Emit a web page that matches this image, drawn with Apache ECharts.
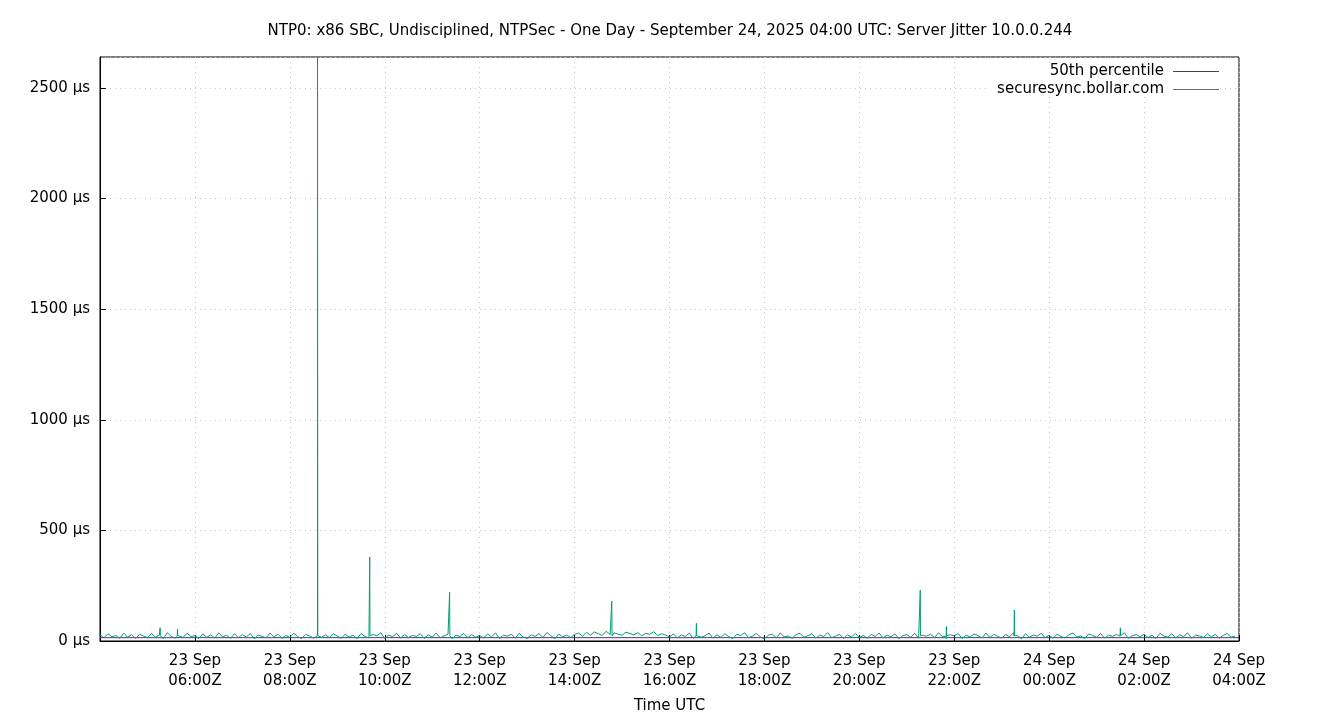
<!DOCTYPE html>
<html>
<head>
<meta charset="utf-8">
<script src="https://cdn.jsdelivr.net/npm/echarts@6/dist/echarts.min.js"></script>
<style>html,body{margin:0;background:#fff}#chart{width:1340px;height:720px}</style>
</head>
<body>
<div id="chart"></div>
<script>
var startTime = Date.UTC(2025, 8, 23, 4, 0),
    endTime = Date.UTC(2025, 8, 24, 4, 0),
    stepMin = 5;

// jitter samples every 5 minutes, µs, one row per hour
var baseJitter = [
    28, 14, 33, 19, 25, 12, 36, 17, 29, 11, 31, 22,
    15, 34, 18, 27, 10, 38, 21, 13, 30, 16, 35, 20,
    24, 11, 32, 17, 28, 13, 37, 19, 26, 12, 33, 15,
    29, 18, 34, 10, 27, 21, 14, 36, 19, 31, 12, 25,
    16, 35, 20, 11, 30, 23, 13, 38, 17, 28, 15, 33,
    22, 12, 31, 18, 26, 10, 34, 20, 14, 29, 24, 37,
    11, 27, 19, 35, 13, 30, 16, 25, 21, 33, 12, 28,
    18, 36, 14, 23, 31, 10, 27, 20, 34, 15, 29, 17,
    25, 13, 32, 19, 37, 11, 26, 22, 30, 14, 35, 18,
    12, 28, 21, 33, 16, 38, 24, 10, 31, 19, 27, 15,
    30, 36, 22, 39, 27, 41, 33, 25, 44, 29, 37, 31,
    26, 40, 34, 28, 38, 23, 35, 30, 42, 24, 33, 27,
    19, 32, 14, 27, 21, 35, 12, 29, 17, 24, 36, 13,
    28, 16, 33, 20, 11, 30, 25, 37, 15, 22, 34, 18,
    10, 26, 31, 14, 36, 19, 23, 12, 29, 35, 17, 24,
    33, 13, 27, 20, 38, 15, 22, 31, 11, 28, 18, 34,
    16, 25, 12, 30, 21, 36, 14, 27, 19, 33, 10, 24,
    29, 17, 35, 13, 26, 22, 31, 15, 37, 20, 12, 28,
    23, 34, 11, 27, 18, 32, 25, 14, 36, 16, 30, 21,
    13, 29, 19, 38, 24, 10, 33, 17, 27, 22, 35, 15,
    26, 12, 31, 20, 14, 28, 36, 18, 23, 11, 32, 25,
    17, 34, 13, 27, 21, 30, 16, 38, 12, 24, 29, 19,
    31, 15, 26, 11, 35, 22, 18, 33, 14, 28, 20, 37,
    12, 27, 23, 16, 32, 19, 30, 13, 25, 34, 17, 22
];
// spikes: minutes after start, µs
var spikeMinutes = [76, 98, 275, 341, 442, 647, 754, 1037, 1070, 1156, 1290];
var spikeValues = [60, 55, 2700, 380, 220, 180, 80, 230, 65, 140, 60];
var medianValue = [15, 15];

var jitterData = [];
baseJitter.forEach(function(v, i) {
    jitterData.push([startTime + i * stepMin * 60000, v]);
});
spikeMinutes.forEach(function(m, i) {
    var t = startTime + m * 60000;
    jitterData.push([t - 20000, 22], [t, spikeValues[i]], [t + 20000, 24]);
});
jitterData.sort(function(a, b) { return a[0] - b[0]; });

function pad(n) { return (n < 10 ? '0' : '') + n; }
var months = ['Jan','Feb','Mar','Apr','May','Jun','Jul','Aug','Sep','Oct','Nov','Dec'];

var chart = echarts.init(document.getElementById('chart'));
var font = 'DejaVu Sans';
chart.setOption({
    animation: false,
    textStyle: { fontFamily: font },
    title: {
        text: 'NTP0: x86 SBC, Undisciplined, NTPSec - One Day - September 24, 2025 04:00 UTC: Server Jitter 10.0.0.244',
        left: 'center', top: 19,
        textStyle: { fontSize: 15, fontWeight: 'normal', color: '#000', fontFamily: font }
    },
    legend: {
        orient: 'vertical', right: 121, top: 64, align: 'right', itemGap: 3, padding: [0, 0, 0, 10],
        itemWidth: 46, itemHeight: 1, icon: 'rect',
        textStyle: { fontSize: 15, color: '#000', fontFamily: font, padding: [0, 4, 0, 0] },
        backgroundColor: '#fff',
        data: [
            { name: '50th percentile', itemStyle: { color: '#9400d3' } },
            { name: 'securesync.bollar.com', itemStyle: { color: '#009e73' } }
        ]
    },
    grid: { left: 100, right: 101, top: 57, bottom: 79, show: true, borderColor: '#000', borderWidth: 1 },
    xAxis: {
        type: 'value', min: startTime, max: endTime, interval: 7200000,
        name: 'Time UTC', nameLocation: 'middle', nameGap: 58,
        nameTextStyle: { fontSize: 15, color: '#000' },
        axisLine: { lineStyle: { color: '#000' } },
        axisTick: { inside: true, length: 6, lineStyle: { color: '#000' } },
        splitLine: { show: true, lineStyle: { color: '#c8c8c8', type: [1, 4] } },
        axisLabel: {
            showMinLabel: false, fontSize: 15, color: '#000', lineHeight: 20, margin: 10,
            formatter: function(v) {
                var d = new Date(v);
                return pad(d.getUTCDate()) + ' ' + months[d.getUTCMonth()] + '\n' +
                    pad(d.getUTCHours()) + ':' + pad(d.getUTCMinutes()) + 'Z';
            }
        }
    },
    yAxis: {
        type: 'value', min: 0, max: 2640, interval: 500,
        axisLine: { show: true, lineStyle: { color: '#000' } },
        axisTick: { show: true, inside: true, length: 6, lineStyle: { color: '#000' } },
        splitLine: { show: true, lineStyle: { color: '#c8c8c8', type: [1, 4] } },
        axisLabel: {
            showMaxLabel: false, fontSize: 15, color: '#000', margin: 10,
            formatter: function(v) { return v + ' µs'; }
        }
    },
    series: [
        {
            name: '50th percentile', type: 'line', symbol: 'none',
            lineStyle: { color: '#9400d3', width: 1 }, itemStyle: { color: '#9400d3' },
            data: [[startTime, medianValue[0]], [endTime, medianValue[1]]]
        },
        {
            name: 'securesync.bollar.com', type: 'line', symbol: 'none', clip: true,
            lineStyle: { color: '#009e73', width: 1 }, itemStyle: { color: '#009e73' },
            data: jitterData
        }
    ]
});
</script>
</body>
</html>
